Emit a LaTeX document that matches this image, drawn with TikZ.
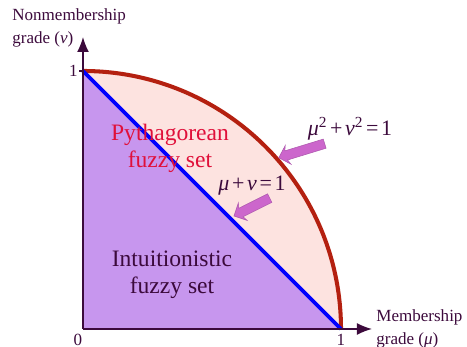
\documentclass[tikz,border=0pt]{standalone}
\usepackage{fontspec}
\setmainfont{Liberation Serif}
\usetikzlibrary{arrows.meta,shapes.arrows}
\definecolor{pinkfill}{HTML}{FDE3E0}
\definecolor{purplefill}{HTML}{C796EE}
\definecolor{arcred}{HTML}{B42010}
\definecolor{labelink}{HTML}{3C0A3C}
\definecolor{pytred}{HTML}{E0103A}
\definecolor{orchidarrow}{HTML}{CC66CC}
\newcommand{\gap}{\hspace{0.12em}}
\tikzset{
    axis/.style={line width=0.9pt, labelink, -{Latex[length=0.3cm,width=0.24cm]}},
    fatarrow/.style={single arrow, fill=orchidarrow, draw=orchidarrow!85!black, line width=0.3pt,
        inner sep=0.09cm, single arrow head extend=0.1cm, single arrow head indent=0.04cm},
    axislabel/.style={font=\fontsize{9.7}{13}\selectfont, labelink, align=left, inner sep=0pt},
    eqlabel/.style={font=\fontsize{12.5}{14}\selectfont, labelink, inner sep=0pt},
    setlabel/.style={font=\fontsize{13.4}{15.3}\selectfont, align=center, inner sep=0pt}
}
\begin{document}
\begin{tikzpicture}
        \useasboundingbox (-1.66,-0.36) rectangle (7.68,6.58);
        % regions
            \coordinate (O) at (0,0);
            \coordinate (X1) at (5.16,0);
            \coordinate (Y1) at (0,5.16);
            \fill[pinkfill] (O) -- (X1) arc[start angle=0, end angle=90, radius=5.16] -- cycle;
            \fill[purplefill] (O) -- (X1) -- (Y1) -- cycle;
            \draw[arcred, line width=2.3pt] (X1) arc[start angle=0, end angle=90, radius=5.16];
            \draw[blue, line width=2.2pt] (Y1) -- (X1);
        % axes
            \coordinate (xend) at (5.78,0);
            \coordinate (yend) at (0,5.84);
            \draw[axis] (O) -- (xend);
            \draw[axis] (O) -- (yend);
            \draw[labelink, line width=0.6pt] (Y1) -- ++(-0.08,0);
            \node[axislabel, anchor=east] (one-y) at (-0.1,5.16) {1};
            \node[axislabel, anchor=north] (zero) at (-0.1,-0.1) {0};
            \node[axislabel, anchor=north] (one-x) at (5.16,-0.1) {1};
            \node[axislabel, anchor=north west] (ylab) at (-1.42,6.42) {Nonmembership\\grade (\textit{ν})};
            \node[axislabel, anchor=north west] (xlab) at (5.86,0.40) {Membership\\grade (\textit{μ})};
        % set names
            \node[setlabel, pytred] (pyth) at (1.74,3.62) {Pythagorean\\fuzzy set};
            \node[setlabel, labelink] (intu) at (1.78,1.08) {Intuitionistic\\fuzzy set};
        % equations and pointers
            \node[eqlabel] (eqcircle) at (5.34,4.0) {\textit{μ}\textsuperscript{2}\gap+\gap\textit{ν}\textsuperscript{2}\gap=\gap1};
            \node[eqlabel] (eqline) at (3.38,2.86) {\textit{μ}\gap+\gap\textit{ν}\gap=\gap1};
            \foreach \p/\a/\l/\n in {{(4.42,3.58)}/197/0.96/ptrA,{(3.42,2.46)}/206.6/0.80/ptrB}{
                \node[fatarrow, rotate=\a, minimum height=\l cm] (\n) at \p {};
            }
        \end{tikzpicture}
\end{document}
